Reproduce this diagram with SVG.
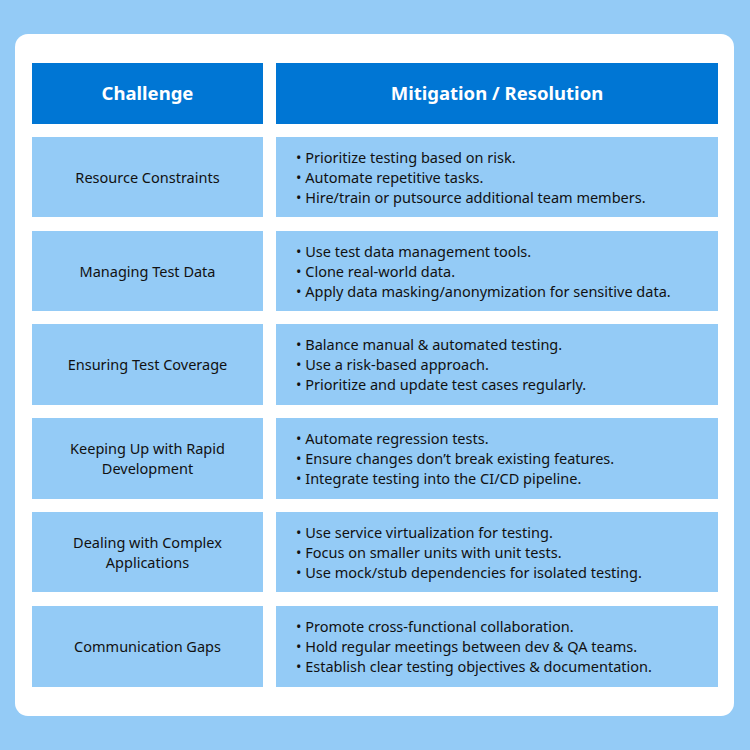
<svg xmlns="http://www.w3.org/2000/svg" width="750" height="750" viewBox="0 0 750 750">
<style>
.h{fill:#0076d4}.c{fill:#94cbf6}
.ht{font-family:"Noto Sans",sans-serif;font-size:18.5px;font-weight:bold;fill:#fff;text-anchor:middle}
.t{font-family:"Noto Sans",sans-serif;font-size:14.5px;fill:#111}
.m{text-anchor:middle}
</style>
<rect width="750" height="750" fill="#94cbf6"/>
<rect x="15" y="34" width="719" height="682" rx="13" fill="#fff"/>
<g id="header">
<rect class="h" x="32" y="63" width="231" height="61"/>
<rect class="h" x="276" y="63" width="442" height="61"/>
<text class="ht" x="147.5" y="100">Challenge</text>
<text class="ht" x="497" y="100">Mitigation / Resolution</text>
</g>
<g id="row1">
<rect class="c" x="32" y="137" width="231" height="80"/><rect class="c" x="276" y="137" width="442" height="80"/>
<text class="t m" x="147.5" y="183">Resource Constraints</text>
<text class="t" x="296" y="163">•  Prioritize testing based on risk.</text>
<text class="t" x="296" y="183">•  Automate repetitive tasks.</text>
<text class="t" x="296" y="203">•  Hire/train or putsource additional team members.</text>
</g>
<g id="row2">
<rect class="c" x="32" y="231" width="231" height="80"/><rect class="c" x="276" y="231" width="442" height="80"/>
<text class="t m" x="147.5" y="277">Managing Test Data</text>
<text class="t" x="296" y="257">•  Use test data management tools.</text>
<text class="t" x="296" y="277">•  Clone real-world data.</text>
<text class="t" x="296" y="297">•  Apply data masking/anonymization for sensitive data.</text>
</g>
<g id="row3">
<rect class="c" x="32" y="324" width="231" height="81"/><rect class="c" x="276" y="324" width="442" height="81"/>
<text class="t m" x="147.5" y="370">Ensuring Test Coverage</text>
<text class="t" x="296" y="350">•  Balance manual &amp; automated testing.</text>
<text class="t" x="296" y="370">•  Use a risk-based approach.</text>
<text class="t" x="296" y="390">•  Prioritize and update test cases regularly.</text>
</g>
<g id="row4">
<rect class="c" x="32" y="418" width="231" height="81"/><rect class="c" x="276" y="418" width="442" height="81"/>
<text class="t m" x="147.5" y="454">Keeping Up with Rapid</text>
<text class="t m" x="147.5" y="474">Development</text>
<text class="t" x="296" y="444">•   Automate regression tests.</text>
<text class="t" x="296" y="464">•  Ensure changes don’t break existing features.</text>
<text class="t" x="296" y="484">•  Integrate testing into the CI/CD pipeline.</text>
</g>
<g id="row5">
<rect class="c" x="32" y="512" width="231" height="80"/><rect class="c" x="276" y="512" width="442" height="80"/>
<text class="t m" x="147.5" y="548">Dealing with Complex</text>
<text class="t m" x="147.5" y="568">Applications</text>
<text class="t" x="296" y="538">•  Use service virtualization for testing.</text>
<text class="t" x="296" y="558">•  Focus on smaller units with unit tests.</text>
<text class="t" x="296" y="578">•  Use mock/stub dependencies for isolated testing.</text>
</g>
<g id="row6">
<rect class="c" x="32" y="606" width="231" height="81"/><rect class="c" x="276" y="606" width="442" height="81"/>
<text class="t m" x="147.5" y="652">Communication Gaps</text>
<text class="t" x="296" y="632">•  Promote cross-functional collaboration.</text>
<text class="t" x="296" y="652">•  Hold regular meetings between dev &amp; QA teams.</text>
<text class="t" x="296" y="672">•  Establish clear testing objectives &amp; documentation.</text>
</g>
</svg>
